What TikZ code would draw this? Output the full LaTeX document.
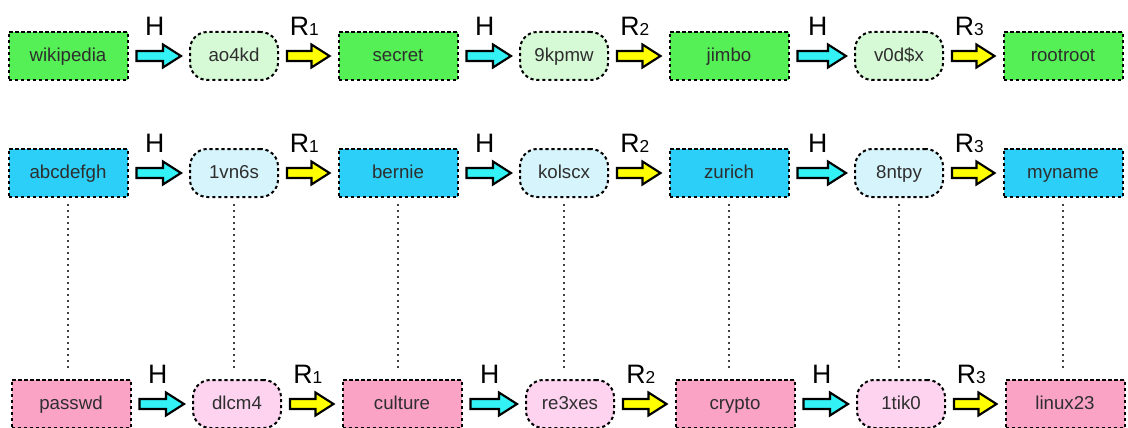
\documentclass[tikz,border=0pt]{standalone}
\usepackage{fontspec}
\setmainfont{Liberation Sans}
\usetikzlibrary{calc}
\definecolor{grnD}{HTML}{55F055}
\definecolor{grnL}{HTML}{D6FAD6}
\definecolor{cyaD}{HTML}{2BCFF8}
\definecolor{cyaL}{HTML}{D6F4FB}
\definecolor{pnkD}{HTML}{FAA3C5}
\definecolor{pnkL}{HTML}{FDD3F0}
\definecolor{arrC}{HTML}{33F2F5}
\definecolor{arrY}{HTML}{FFFF00}
\newcommand\blockarrow[4]{%
  \path let \p1=(#1.east), \p2=(#2.west) in
    [draw=black, line width=1.6pt, fill=#3, line join=miter]
    (\x1+6pt, \y1+3.75pt) -- (\x2-19.5pt, \y1+3.75pt) -- (\x2-19.5pt, \y1+8.6pt)
    -- (\x2-6pt, \y1) -- (\x2-19.5pt, \y1-8.6pt) -- (\x2-19.5pt, \y1-3.75pt)
    -- (\x1+6pt, \y1-3.75pt) -- cycle
    node[lbl] at ({0.5*\x1+0.5*\x2-3pt}, \y1+15.5pt) {#4};}
\newcommand\sub[1]{{\fontsize{13}{13}\selectfont #1}}
\begin{document}
\begin{tikzpicture}[x=0.75pt,y=-0.75pt,
  base/.style={draw=black, line width=1.5pt, dash pattern=on 2.4pt off 2.1pt,
    text=black!82, font=\fontsize{14}{16}\selectfont, inner sep=0pt,
    text height=11pt, text depth=2.5pt},
  pwbox/.style={base, minimum width=89.25pt, minimum height=36pt},
  hashbox/.style={base, rounded corners=13pt, minimum width=66pt, minimum height=36pt},
  lbl/.style={font=\fontsize{20}{22}\selectfont, anchor=base, inner sep=0pt},
  link/.style={line width=1.5pt, dash pattern=on 1.5pt off 3pt, black!75}
]
\useasboundingbox (0,0) rectangle (1128,428);
% row 1
\node[pwbox, fill=grnD] (a1) at (68,56) {wikipedia};
\node[hashbox, fill=grnL] (a2) at (234,56) {ao4kd};
\node[pwbox, fill=grnD] (a3) at (398,56) {secret};
\node[hashbox, fill=grnL] (a4) at (564,56) {9kpmw};
\node[pwbox, fill=grnD] (a5) at (729,56) {jimbo};
\node[hashbox, fill=grnL] (a6) at (899,56) {v0d\$x};
\node[pwbox, fill=grnD] (a7) at (1063,56) {rootroot};
% row 2
\node[pwbox, fill=cyaD] (b1) at (68,173) {abcdefgh};
\node[hashbox, fill=cyaL] (b2) at (234,173) {1vn6s};
\node[pwbox, fill=cyaD] (b3) at (398,173) {bernie};
\node[hashbox, fill=cyaL] (b4) at (564,173) {kolscx};
\node[pwbox, fill=cyaD] (b5) at (729,173) {zurich};
\node[hashbox, fill=cyaL] (b6) at (899,173) {8ntpy};
\node[pwbox, fill=cyaD] (b7) at (1063,173) {myname};
% row 3
\node[pwbox, fill=pnkD] (c1) at (71,404) {passwd};
\node[hashbox, fill=pnkL] (c2) at (237,404) {dlcm4};
\node[pwbox, fill=pnkD] (c3) at (402,404) {culture};
\node[hashbox, fill=pnkL] (c4) at (570,404) {re3xes};
\node[pwbox, fill=pnkD] (c5) at (735,404) {crypto};
\node[hashbox, fill=pnkL] (c6) at (901,404) {1tik0};
\node[pwbox, fill=pnkD] (c7) at (1065,404) {linux23};
% dotted links
\foreach \i in {1,...,7}{
  \draw[link] ($(b\i.south)+(0,6)$) -- ($(b\i.south |- c\i.north)+(0,-7)$);
}
% arrows
\foreach \r in {a,b,c}{
  \blockarrow{\r1}{\r2}{arrC}{H}
  \blockarrow{\r2}{\r3}{arrY}{R\sub{1}}
  \blockarrow{\r3}{\r4}{arrC}{H}
  \blockarrow{\r4}{\r5}{arrY}{R\sub{2}}
  \blockarrow{\r5}{\r6}{arrC}{H}
  \blockarrow{\r6}{\r7}{arrY}{R\sub{3}}
}
\end{tikzpicture}
\end{document}
